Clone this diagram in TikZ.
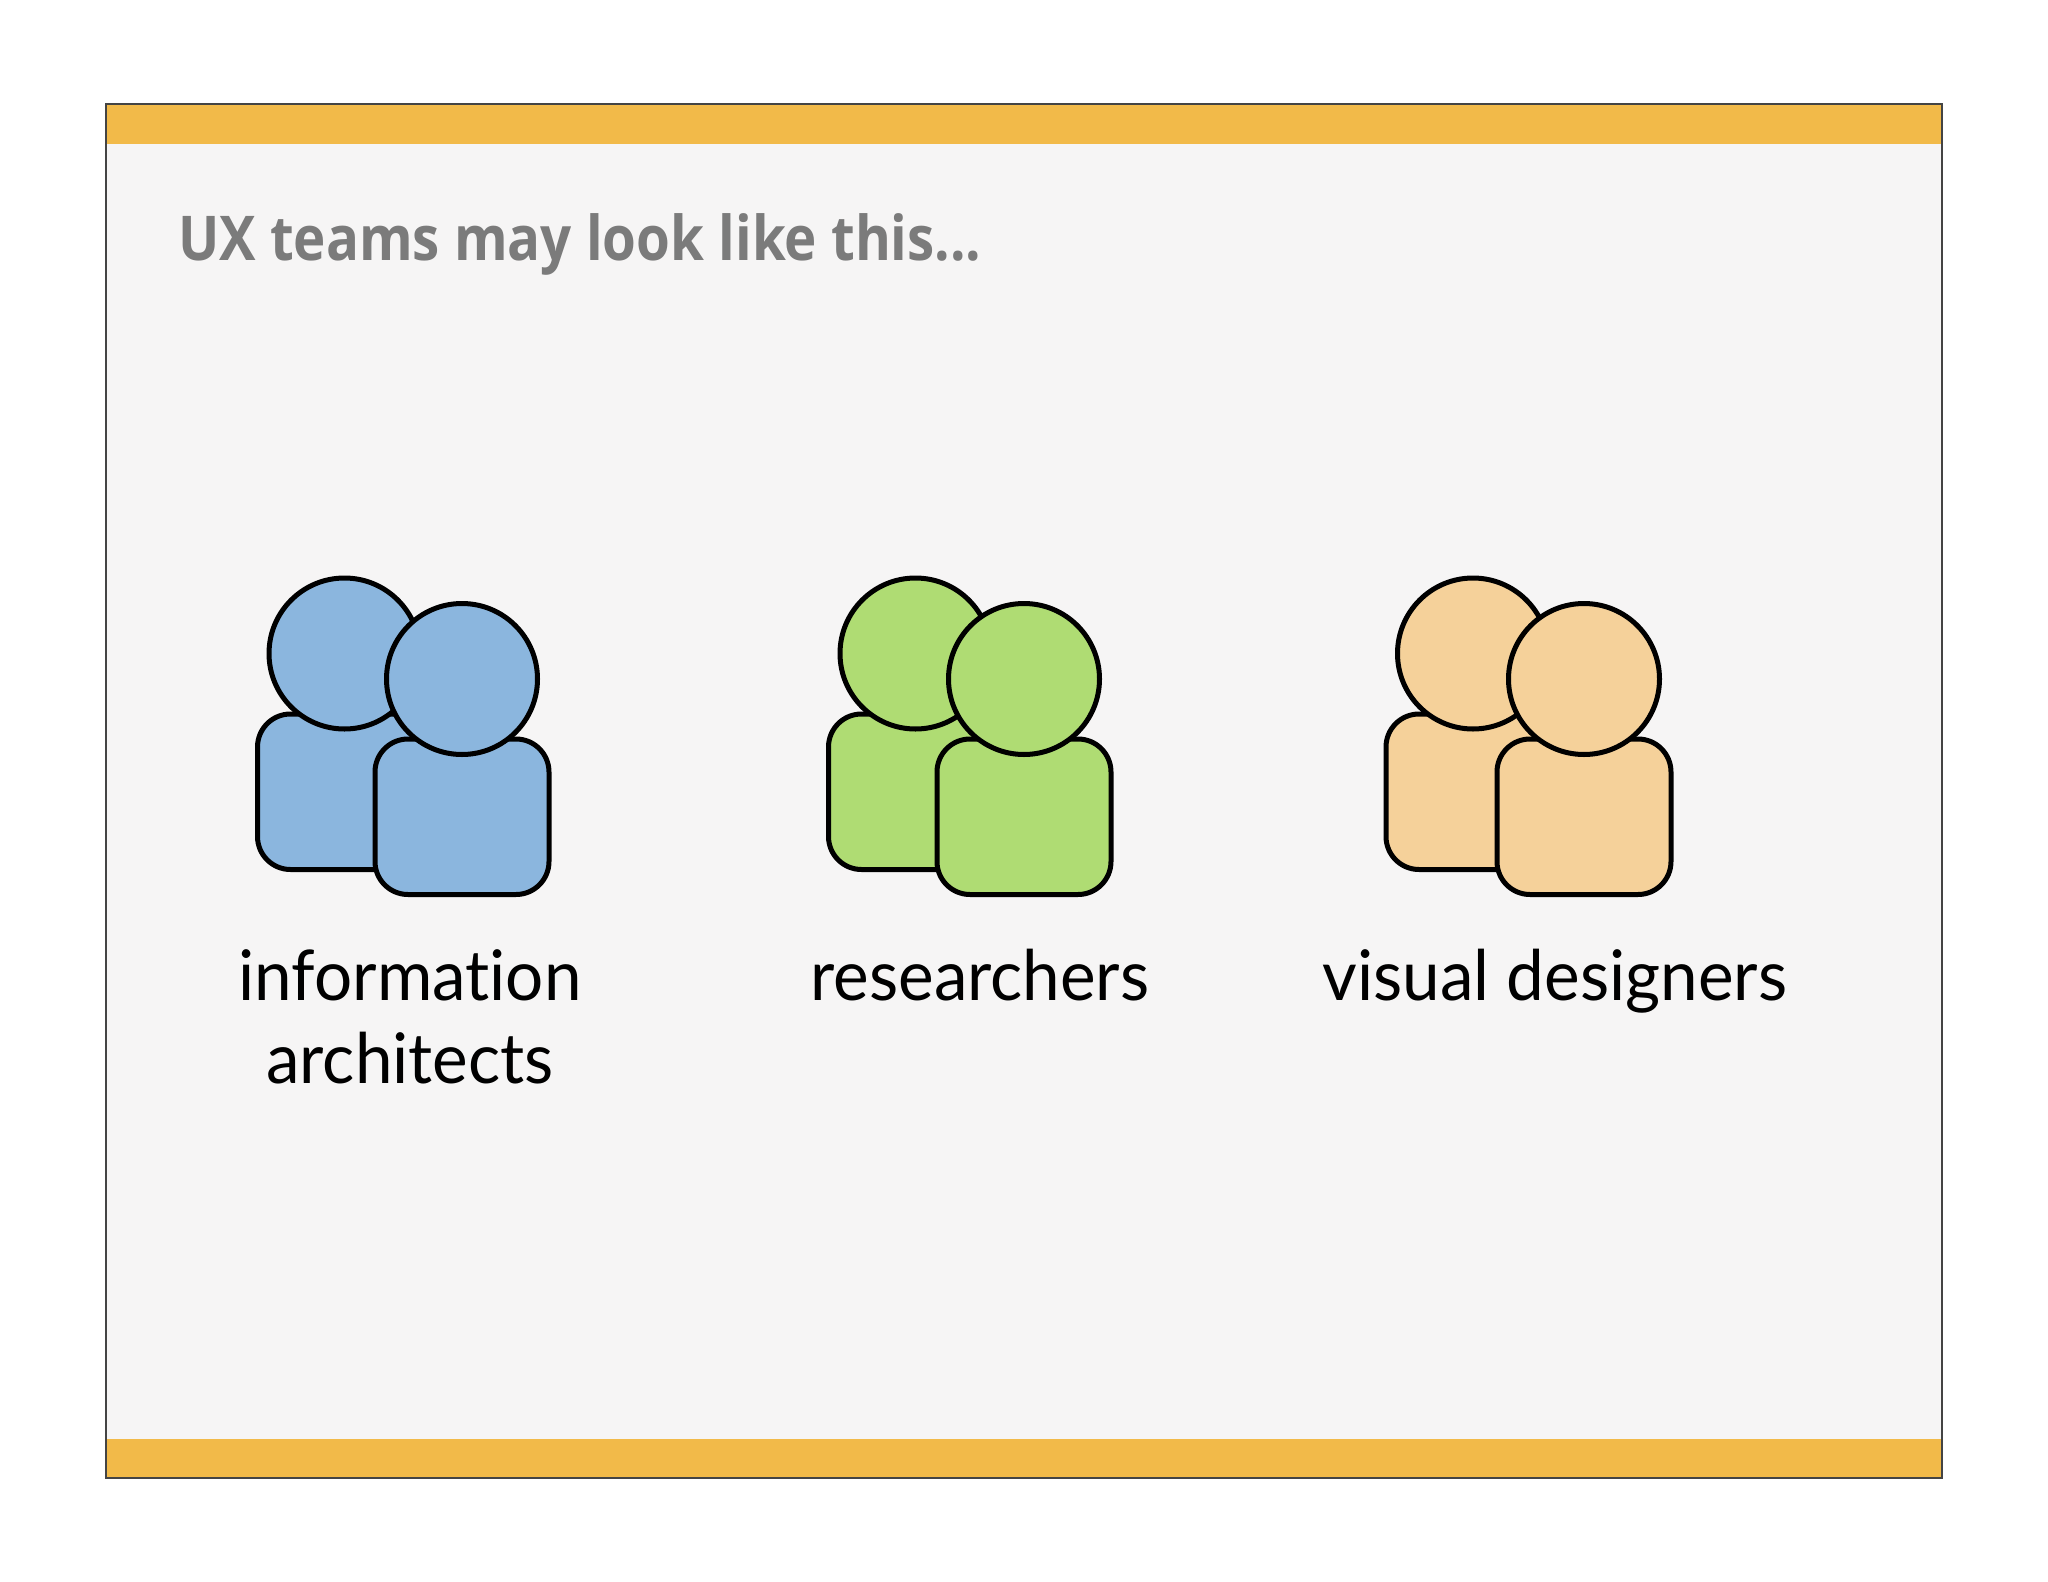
\documentclass[tikz,border=0pt]{standalone}
\usepackage{fontspec}
\setmainfont[FakeStretch=0.966,Ligatures=NoCommon]{Lato}
\newfontfamily\titlefont[FakeStretch=0.885]{Open Sans}
\definecolor{barcol}{HTML}{F2BA49}
\definecolor{panelcol}{HTML}{F6F5F5}
\definecolor{framecol}{HTML}{444444}
\definecolor{titlecol}{HTML}{7B7B7B}
\definecolor{ppblue}{HTML}{8BB6DE}
\definecolor{ppgreen}{HTML}{AFDC73}
\definecolor{pppeach}{HTML}{F5D19A}
\tikzset{
  x=1bp,y=-1bp,
  personline/.style={draw=black,line width=5bp},
  labeltext/.style={font=\fontsize{70}{83}\selectfont,align=center,text=black,inner sep=0pt,anchor=base},
  titletext/.style={font=\titlefont\bfseries\fontsize{62}{70}\selectfont,text=titlecol,inner sep=0pt,anchor=base west},
}
% #1 colour, #2 centre x, #3 top y of body, #4 = circle centre y
\newcommand{\onePerson}[4]{%
  \path[personline,fill=#1,rounded corners=33bp] (#2-87,#3) rectangle (#2+87,#3+155.5);
  \path[personline,fill=#1] (#2,#4) circle[radius=75.5];
}
\begin{document}
\begin{tikzpicture}
\useasboundingbox (0,0) rectangle (2048,1582);
\fill[white] (0,0) rectangle (2048,1582);
\fill[panelcol] (106,104) rectangle (1942,1478);
\fill[barcol] (106,104) rectangle (1942,144.5);
\fill[barcol] (106,1439) rectangle (1942,1478);
\draw[framecol,line width=1.2bp] (106,104) rectangle (1942,1478);
\node[titletext] (title) at (178,260) {UX teams may look like this...};
\onePerson{ppblue}{344.5}{714}{653.5}
\onePerson{ppblue}{462}{739}{679}
\onePerson{ppgreen}{915.5}{714}{653.5}
\onePerson{ppgreen}{1024}{739}{679}
\onePerson{pppeach}{1473}{714}{653.5}
\onePerson{pppeach}{1584}{739}{679}
\node[labeltext] (l1) at (410,1083) {information\\architects};
\node[labeltext] (l2) at (980,1000) {researchers};
\node[labeltext] (l3) at (1555,1000) {visual designers};
\end{tikzpicture}
\end{document}
